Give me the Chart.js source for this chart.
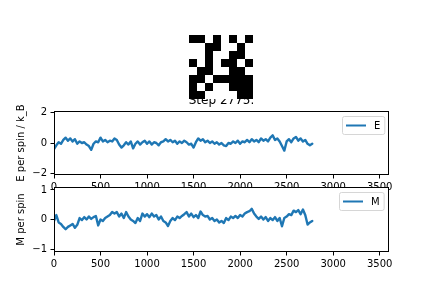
<!DOCTYPE html>
<html><head><meta charset="utf-8">
<script src="https://cdn.jsdelivr.net/npm/chart.js@4.4.0/dist/chart.umd.min.js"></script>
<style>
html,body{margin:0;padding:0;background:#fff;}
#fig{position:relative;width:432px;height:288px;overflow:hidden;background:#fff;}
canvas{position:absolute;}
</style></head><body>
<div id="fig">
<canvas id="cE" width="432" height="114" style="left:0;top:86px;"></canvas>
<canvas id="cM" width="432" height="111" style="left:0;top:177px;"></canvas>
<canvas id="cS" width="64" height="64" style="left:189px;top:35px;"></canvas>
</div>
<script>
const titleText = 'Step 2775.';
const steps = [0,25,50,75,100,125,150,175,200,225,250,275,300,325,350,375,400,425,450,475,500,525,550,575,600,625,650,675,700,725,750,775,800,825,850,875,900,925,950,975,1000,1025,1050,1075,1100,1125,1150,1175,1200,1225,1250,1275,1300,1325,1350,1375,1400,1425,1450,1475,1500,1525,1550,1575,1600,1625,1650,1675,1700,1725,1750,1775,1800,1825,1850,1875,1900,1925,1950,1975,2000,2025,2050,2075,2100,2125,2150,2175,2200,2225,2250,2275,2300,2325,2350,2375,2400,2425,2450,2475,2500,2525,2550,2575,2600,2625,2650,2675,2700,2725,2750,2775];
const energy = [
-0.40,-0.15,0.05,-0.05,0.20,0.35,0.15,0.30,0.10,0.25,
-0.05,0.10,0.00,0.05,-0.10,-0.20,-0.45,-0.05,0.10,0.05,
0.35,0.10,0.20,0.05,0.15,0.10,0.30,0.20,-0.10,-0.30,
-0.15,0.05,-0.10,0.10,-0.35,-0.05,0.10,-0.10,0.05,0.15,
-0.05,0.10,-0.10,0.05,0.00,-0.15,0.05,0.10,0.25,0.10,
0.20,0.05,0.15,-0.05,0.10,0.00,0.15,0.05,-0.10,-0.05,
-0.30,0.05,0.30,0.15,0.25,0.05,0.15,0.00,0.10,-0.05,
0.05,-0.10,0.00,-0.15,-0.20,0.00,-0.05,0.10,0.00,0.15,
-0.05,0.10,0.05,0.20,0.05,0.25,0.10,0.20,0.05,0.30,
0.15,0.25,0.10,0.35,0.50,0.20,0.30,0.10,-0.20,-0.50,
0.10,0.25,0.05,0.30,0.40,0.15,0.30,0.10,0.20,-0.05,
-0.15,-0.05];
const magnet = [
-0.05,0.15,-0.10,-0.15,-0.25,-0.33,-0.25,-0.20,-0.15,-0.28,
-0.18,0.05,-0.02,0.08,0.00,0.10,0.02,0.08,0.12,-0.20,
0.00,-0.05,0.05,0.10,0.15,0.25,0.20,0.25,0.10,0.20,
0.05,0.25,0.10,0.00,-0.05,-0.12,0.05,-0.05,0.20,0.10,
0.18,0.08,0.20,0.10,0.15,0.00,0.10,-0.05,-0.10,-0.22,
-0.05,0.05,-0.02,0.10,0.05,0.12,0.18,0.25,0.10,0.20,
0.08,0.15,0.05,0.27,0.15,0.10,0.12,0.00,0.05,-0.05,
0.00,-0.10,-0.05,-0.12,0.05,-0.02,0.10,0.05,0.12,0.05,
0.15,0.10,0.20,0.25,0.28,0.36,0.20,0.10,0.02,0.10,
0.00,0.08,-0.05,0.05,-0.02,0.08,-0.05,0.05,-0.23,0.05,
0.10,0.18,0.15,0.30,0.25,0.32,0.18,0.34,0.15,-0.17,
-0.10,-0.05];
const spins = [
[-1,-1, 1,-1, 1,-1, 1,-1],
[ 1, 1,-1,-1, 1, 1,-1, 1],
[ 1, 1,-1, 1, 1,-1,-1, 1],
[-1, 1,-1, 1,-1,-1, 1,-1],
[ 1,-1,-1, 1, 1,-1,-1, 1],
[-1,-1, 1,-1,-1,-1,-1,-1],
[-1, 1,-1, 1, 1,-1,-1,-1],
[-1,-1, 1, 1, 1, 1,-1,-1]];
const xTicks = [0,500,1000,1500,2000,2500,3000,3500];
const yTicksE = [-2,0,2];
const yTicksM = [-1,0,1];

Chart.defaults.font.family = '"DejaVu Sans"';
Chart.defaults.font.size = 10;
Chart.defaults.color = '#000';

const fmt = v => v < 0 ? '\u2212' + Math.abs(v) : String(v);

const framePlugin = {
  id: 'frame',
  beforeDraw(chart, args, opts) {
    if (!opts.fillArea) return;
    const a = chart.chartArea, ctx = chart.ctx;
    ctx.save(); ctx.fillStyle = '#fff';
    ctx.fillRect(a.left, a.top, a.right - a.left, a.bottom - a.top);
    ctx.restore();
  },
  afterDraw(chart, args, opts) {
    const a = chart.chartArea, ctx = chart.ctx;
    ctx.save();
    ctx.strokeStyle = '#000'; ctx.lineWidth = 1;
    ctx.strokeRect(Math.round(a.left) + 0.5, Math.round(a.top) + 0.5,
      Math.round(a.right - a.left) - 1, Math.round(a.bottom - a.top) - 1);
    const ds = chart.data.datasets[0];
    ctx.font = '10px "DejaVu Sans"';
    const tw = ctx.measureText(ds.label).width;
    const w = 4 + 20 + 8 + tw + 4, h = 18;
    const x0 = Math.round(a.right - 5 - w), y0 = Math.round(a.top + (opts.legendTop || 5));
    ctx.beginPath();
    if (ctx.roundRect) ctx.roundRect(x0 + 0.5, y0 + 0.5, w, h, 2); else ctx.rect(x0 + 0.5, y0 + 0.5, w, h);
    ctx.fillStyle = 'rgba(255,255,255,0.8)'; ctx.fill();
    ctx.strokeStyle = '#d6d6d6'; ctx.lineWidth = 1; ctx.stroke();
    ctx.beginPath();
    ctx.moveTo(x0 + 4, y0 + h / 2 + 0.5); ctx.lineTo(x0 + 24, y0 + h / 2 + 0.5);
    ctx.strokeStyle = ds.borderColor; ctx.lineWidth = 2; ctx.stroke();
    ctx.fillStyle = '#000'; ctx.textBaseline = 'middle'; ctx.textAlign = 'left';
    ctx.fillText(ds.label, x0 + 32, y0 + h / 2 + 1);
    ctx.restore();
  }
};

function lineOptions(yMin, yMax, yTicks, yTitle, xHeight, padTop, withTitle, fillArea) {
  return {
    responsive: false, animation: false, events: [],
    layout: { padding: { left: 0, right: 43, top: padTop, bottom: 0 } },
    plugins: {
      legend: { display: false }, tooltip: { enabled: false },
      title: withTitle ? { display: true, text: titleText, fullSize: false, color: '#000',
        font: { size: 12, weight: 'normal', lineHeight: 1 }, padding: { top: 8.5, bottom: 4.5 } } : { display: false },
      frame: { fillArea: fillArea }
    },
    scales: {
      x: {
        type: 'linear', min: 0, max: 3600,
        afterBuildTicks: s => { s.ticks = xTicks.map(v => ({ value: v })); },
        afterFit: s => { s.height = xHeight; },
        ticks: { color: '#000', padding: 3, maxRotation: 0, autoSkip: false, callback: fmt },
        grid: { display: true, drawOnChartArea: false, drawTicks: true, tickLength: 3.5, tickColor: '#000', color: '#000' },
        border: { display: false }
      },
      y: {
        type: 'linear', min: yMin, max: yMax,
        afterBuildTicks: s => { s.ticks = yTicks.map(v => ({ value: v })); },
        afterFit: s => { s.width = 54; },
        ticks: { color: '#000', padding: 3.5, callback: fmt },
        grid: { display: true, drawOnChartArea: false, drawTicks: true, tickLength: 3.5, tickColor: '#000', color: '#000' },
        border: { display: false },
        title: { display: true, text: yTitle, color: '#000', font: { size: 10 }, padding: { top: 15, bottom: 0 } }
      }
    }
  };
}

function series(label, vals) {
  return {
    label: label,
    data: steps.map((x, i) => ({ x: x, y: vals[i] })),
    borderColor: '#1f77b4', backgroundColor: '#1f77b4',
    borderWidth: 2.4, pointRadius: 0, showLine: true, fill: false, tension: 0,
    borderJoinStyle: 'round', borderCapStyle: 'round'
  };
}

new Chart(document.getElementById('cE'), {
  type: 'scatter',
  data: { datasets: [series('E', energy)] },
  options: lineOptions(-2.1, 2.1, yTicksE, 'E per spin / k_B', 25, 0, true, false),
  plugins: [framePlugin]
});

new Chart(document.getElementById('cM'), {
  type: 'scatter',
  data: { datasets: [series('M', magnet)] },
  options: lineOptions(-1.1, 1.1, yTicksM, 'M per spin', 36, 10, false, true),
  plugins: [framePlugin]
});

const cells = [];
spins.forEach((row, r) => row.forEach((v, c) => cells.push({ x: c, y: r, v: v })));

const cellPlugin = {
  id: 'cells',
  afterDatasetsDraw(chart) {
    const ctx = chart.ctx, xs = chart.scales.x, ys = chart.scales.y;
    ctx.save();
    chart.data.datasets[0].data.forEach(p => {
      const x0 = xs.getPixelForValue(p.x), x1 = xs.getPixelForValue(p.x + 1);
      const y0 = ys.getPixelForValue(p.y), y1 = ys.getPixelForValue(p.y + 1);
      ctx.fillStyle = p.v < 0 ? '#000' : '#fff';
      ctx.fillRect(Math.min(x0, x1), Math.min(y0, y1), Math.abs(x1 - x0), Math.abs(y1 - y0));
    });
    ctx.restore();
  }
};

new Chart(document.getElementById('cS'), {
  type: 'scatter',
  data: { datasets: [{ data: cells, pointRadius: 0 }] },
  options: {
    responsive: false, animation: false, events: [],
    layout: { padding: 0 },
    plugins: { legend: { display: false }, tooltip: { enabled: false } },
    scales: {
      x: { type: 'linear', min: 0, max: 8, display: false },
      y: { type: 'linear', min: 0, max: 8, reverse: true, display: false }
    }
  },
  plugins: [cellPlugin]
});
</script>
</body></html>
